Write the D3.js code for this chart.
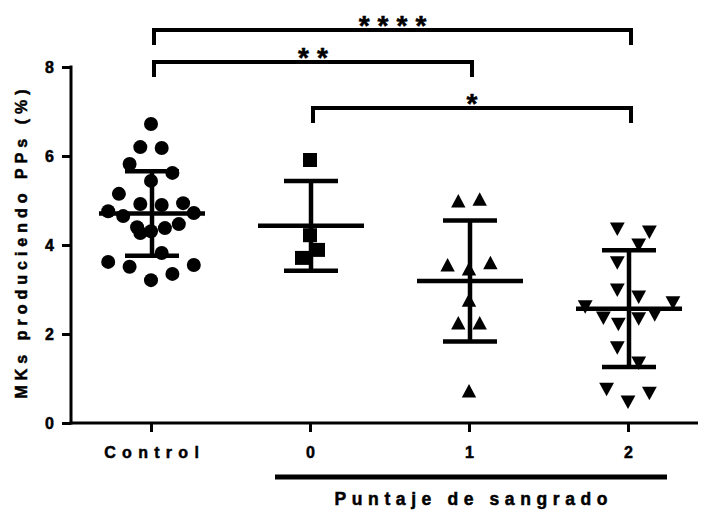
<!DOCTYPE html>
<html>
<head>
<meta charset="utf-8">
<script src="https://cdn.jsdelivr.net/npm/d3@7"></script>
<style>
  html, body { margin: 0; padding: 0; background: #fff; }
  svg { display: block; font-family: "Liberation Sans", Arial, sans-serif; font-weight: bold; }
  svg text { stroke: #000; stroke-width: 0.5px; fill: #000; }
</style>
</head>
<body>
<svg id="chart" width="705" height="513"></svg>
<script>
// ---- data -------------------------------------------------------------
const categories = ["Control", "0", "1", "2"];
const yTicks = [0, 2, 4, 6, 8];

// % of megakaryocytes producing proplatelets, per animal
const controlValues = [6.72, 6.20, 6.18, 5.82, 5.62, 5.44, 5.15, 4.92, 4.90, 4.94, 4.76, 4.65,
                       4.72, 4.40, 4.27, 4.31, 4.38, 4.47, 3.82, 3.62, 3.51, 3.55, 3.21, 3.35];
const score0Values = [5.91, 4.22, 3.89, 3.71];
const score1Values = [4.99, 5.03, 3.55, 3.46, 3.60, 2.76, 2.25, 2.25, 0.72];
const score2Values = [4.36, 4.29, 4.00, 3.60, 2.99, 2.83, 2.61, 2.70, 2.36, 2.22, 2.34, 2.43,
                      1.69, 1.35, 0.76, 0.47, 0.67];

// column slot of each point in the scatter (in symbol widths, 0 = centre)
const controlSpread = [0, -1, 1, -2, 2, 0, -3, -1, 1, 3, -4, -2.6, 4, -1.3, -1, 0, 1.3, 2.6, 1, -4, -2, 4, 0, 2];
const score0Spread = [0, 0, 0.75, -0.75];
const score1Spread = [-1, 1, -2, 0, 2, 0, -1, 1, 0];
const score2Spread = [-1, 2, 1, -1, -1, 1, -4, 4.2, -2.3, -0.9, 1, 2.5, -1, 1, -2, 0, 2];

// mean and standard deviation of each group
const groupMeans = [4.71, 4.43, 3.19, 2.57];
const groupSDs = [0.95, 1.01, 1.36, 1.31];

// pairwise comparisons: [from, to, significance]
const comparisons = [["Control", "2", "****"], ["Control", "1", "**"], ["0", "2", "*"]];

const xTitle = "Puntaje de sangrado";
const yTitle = "MKs produciendo PPs (%)";
const scoredCategories = ["0", "1", "2"];

// ---- layout -----------------------------------------------------------
const svg = d3.select("#chart");
const x = d3.scalePoint().domain(categories).range([151, 628]);
const y = d3.scaleLinear().domain([0, 8]).range([423, 67]);
const axisLeftX = 71, axisRightX = 698;
const slot = 10.7;
const fontFamily = "Liberation Sans, Arial, sans-serif";

const groups = [
  { key: "Control", values: controlValues, spread: controlSpread, shape: "circle" },
  { key: "0", values: score0Values, spread: score0Spread, shape: "square" },
  { key: "1", values: score1Values, spread: score1Spread, shape: "up" },
  { key: "2", values: score2Values, spread: score2Spread, shape: "down" }
];

function symbolPath(shape) {
  if (shape === "circle") return "M7,0A7,7 0 1,1 -7,0A7,7 0 1,1 7,0Z";
  if (shape === "square") return "M-7,-7H7V7H-7Z";
  if (shape === "up") return "M0,-7L7.2,6.5H-7.2Z";
  return "M-7.4,-6.5H7.4L0,7Z";
}

// ---- axes -------------------------------------------------------------
const yAxis = svg.append("g")
  .attr("transform", `translate(${axisLeftX},0)`)
  .call(d3.axisLeft(y).tickValues(yTicks).tickSize(9).tickSizeOuter(0).tickPadding(8));
yAxis.select(".domain").remove();
yAxis.selectAll(".tick line").attr("stroke", "#000").attr("stroke-width", 3);
yAxis.selectAll(".tick text")
  .attr("font-size", 16).attr("font-weight", "bold")
  .attr("font-family", fontFamily);
svg.append("line")
  .attr("x1", axisLeftX).attr("x2", axisLeftX)
  .attr("y1", y(0) + 1.5).attr("y2", y(8) - 1.5)
  .attr("stroke", "#000").attr("stroke-width", 3);

const xAxis = svg.append("g")
  .attr("transform", `translate(0,${y(0)})`)
  .call(d3.axisBottom(x).tickSize(9).tickSizeOuter(0).tickPadding(15));
xAxis.select(".domain").remove();
xAxis.selectAll(".tick line").attr("stroke", "#000").attr("stroke-width", 3);
xAxis.selectAll(".tick text")
  .attr("font-size", 16).attr("font-weight", "bold")
  .attr("font-family", fontFamily)
  .attr("letter-spacing", d => d.length > 1 ? 6.3 : 0)
  .attr("dx", d => d.length > 1 ? 3.2 : 0);
svg.append("line")
  .attr("x1", axisLeftX - 1.5).attr("x2", axisRightX)
  .attr("y1", y(0)).attr("y2", y(0))
  .attr("stroke", "#000").attr("stroke-width", 3);

// bar grouping the bleeding-score categories
const scoredExtent = d3.extent(scoredCategories, c => x(c));
const barLeft = scoredExtent[0] - 35, barRight = scoredExtent[1] + 39;
svg.append("line")
  .attr("x1", barLeft).attr("x2", barRight)
  .attr("y1", 477).attr("y2", 477)
  .attr("stroke", "#000").attr("stroke-width", 5);

svg.append("text")
  .attr("x", (barLeft + barRight) / 2)
  .attr("y", 505)
  .attr("text-anchor", "middle")
  .attr("font-size", 17.5)
  .attr("letter-spacing", 5.6)
  .attr("dx", 2.8)
  .text(xTitle);

svg.append("text")
  .attr("transform", "translate(27,244) rotate(-90)")
  .attr("text-anchor", "middle")
  .attr("font-size", 16)
  .attr("letter-spacing", 5)
  .attr("dx", 2.5)
  .text(yTitle);

// ---- points -----------------------------------------------------------
groups.forEach(g => {
  svg.append("g").selectAll("path")
    .data(g.values.map((v, i) => ({ v, s: g.spread[i] })))
    .join("path")
    .attr("d", symbolPath(g.shape))
    .attr("transform", d => `translate(${x(g.key) + d.s * slot},${y(d.v)})`)
    .attr("fill", "#000");
});

// ---- mean ± SD --------------------------------------------------------
const summary = svg.append("g").attr("stroke", "#000").attr("stroke-width", 4.5);
categories.forEach((c, i) => {
  const cx = x(c) + 1;
  const top = y(groupMeans[i] + groupSDs[i]);
  const bot = y(groupMeans[i] - groupSDs[i]);
  summary.append("line").attr("x1", cx).attr("x2", cx).attr("y1", top).attr("y2", bot);
  summary.append("line").attr("x1", cx - 27).attr("x2", cx + 27).attr("y1", top).attr("y2", top);
  summary.append("line").attr("x1", cx - 27).attr("x2", cx + 27).attr("y1", bot).attr("y2", bot);
  summary.append("line").attr("x1", cx - 53).attr("x2", cx + 53)
    .attr("y1", y(groupMeans[i])).attr("y2", y(groupMeans[i]));
});

// ---- significance brackets --------------------------------------------
const bracketY = [30, 62, 108];
const bracketDrop = 15;
const starSize = 28;
comparisons.forEach(([a, b, label], i) => {
  const x1 = x(a) + 3, x2 = x(b) + 3, by = bracketY[i];
  svg.append("path")
    .attr("d", `M${x1},${by + bracketDrop}V${by}H${x2}V${by + bracketDrop}`)
    .attr("fill", "none").attr("stroke", "#000").attr("stroke-width", 4)
    .attr("stroke-linejoin", "miter");
  svg.append("text")
    .attr("x", (x1 + x2) / 2)
    .attr("y", by - 15 + starSize * 0.72)
    .attr("text-anchor", "middle")
    .attr("font-size", starSize)
    .attr("letter-spacing", 8)
    .attr("dx", 4)
    .text(label);
});
</script>
</body>
</html>
